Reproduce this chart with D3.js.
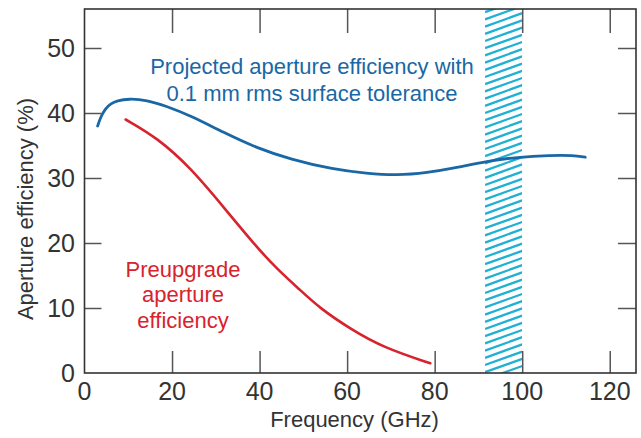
<!DOCTYPE html>
<html><head><meta charset="utf-8">
<script src="https://cdn.jsdelivr.net/npm/d3@7"></script>
<style>html,body{margin:0;padding:0;background:#fff;}svg{display:block;}</style>
</head><body>
<script>
// ---- data ----
const projectedFreq = [3.0, 3.7, 4.8, 5.9, 7.5, 10.0, 14.3, 18.5, 24.2, 31.8, 39.4, 47.0, 56.9, 64.5, 71.4, 78.2, 85.1, 91.9, 98.8, 106.4, 111.7, 114.4];
const projectedEff  = [38.0, 39.4, 40.7, 41.4, 41.9, 42.2, 42.0, 41.1, 39.6, 37.0, 34.6, 32.9, 31.3, 30.7, 30.4, 30.8, 31.6, 32.6, 33.2, 33.5, 33.5, 33.2];
const preupgradeFreq = [9.4, 16.6, 24.2, 31.8, 39.4, 44.0, 49.2, 53.9, 60.7, 68.3, 79.0];
const preupgradeEff  = [39.0, 36.2, 31.6, 25.5, 19.3, 16.0, 12.8, 9.9, 6.8, 3.9, 1.5];
const bandGHz = [91.5, 100];
const xTicks = [0, 20, 40, 60, 80, 100, 120];
const yTicks = [0, 10, 20, 30, 40, 50];
const xDomain = [0, 126];
const yDomain = [0, 56];
const projectedLabel = ["Projected aperture efficiency with", "0.1 mm rms surface tolerance"];
const preupgradeLabel = ["Preupgrade", "aperture", "efficiency"];
const xTitle = "Frequency (GHz)";
const yTitle = "Aperture efficiency (%)";

// ---- layout ----
const W = 641, H = 438;
const pL = 84.5, pR = 636, pT = 9, pB = 373;
const blue = "#1a67a5", red = "#d7232d", hatch = "#1fb0d3", ink = "#333";
const font = "'Liberation Sans', Arial, sans-serif";

const svg = d3.select("body").append("svg").attr("width", W).attr("height", H);
const x = d3.scaleLinear().domain(xDomain).range([pL, pR]);
const y = d3.scaleLinear().domain(yDomain).range([pB, pT]);

// hatch band
const bx0 = x(bandGHz[0]), bx1 = x(bandGHz[1]);
svg.append("clipPath").attr("id", "bandclip").append("rect")
  .attr("x", bx0).attr("y", pT).attr("width", bx1 - bx0).attr("height", pB - pT);
const gH = svg.append("g").attr("clip-path", "url(#bandclip)");
const run = bx1 - bx0, rise = run * 0.36, step = 7.2;
const offs = d3.range(pT - 4, pB + rise + 8, step);
gH.selectAll("line").data(offs).join("line")
  .attr("x1", bx0).attr("y1", d => d)
  .attr("x2", bx1).attr("y2", d => d - rise)
  .attr("stroke", hatch).attr("stroke-width", 2.3);

// axes (inner ticks on all four sides)
const tickColor = "#555";
svg.append("g").attr("transform", `translate(0,${pB})`)
  .call(d3.axisTop(x).tickValues(xTicks.filter(d => d > 0)).tickSize(22).tickFormat(""))
  .call(g => { g.select(".domain").remove(); g.selectAll("line").attr("stroke", tickColor).attr("stroke-width", 1.5); });
svg.append("g").attr("transform", `translate(0,${pT})`)
  .call(d3.axisBottom(x).tickValues(xTicks.filter(d => d > 0)).tickSize(24).tickFormat(""))
  .call(g => { g.select(".domain").remove(); g.selectAll("line").attr("stroke", tickColor).attr("stroke-width", 1.5); });
svg.append("g").attr("transform", `translate(${pL},0)`)
  .call(d3.axisRight(y).tickValues(yTicks.filter(d => d > 0)).tickSize(17).tickFormat(""))
  .call(g => { g.select(".domain").remove(); g.selectAll("line").attr("stroke", tickColor).attr("stroke-width", 1.5); });
svg.append("g").attr("transform", `translate(${pR},0)`)
  .call(d3.axisLeft(y).tickValues(yTicks.filter(d => d > 0)).tickSize(18).tickFormat(""))
  .call(g => { g.select(".domain").remove(); g.selectAll("line").attr("stroke", tickColor).attr("stroke-width", 1.5); });

// frame
svg.append("rect").attr("x", pL).attr("y", pT).attr("width", pR - pL).attr("height", pB - pT)
  .attr("fill", "none").attr("stroke", ink).attr("stroke-width", 1.6);

// tick labels
svg.append("g").selectAll("text").data(xTicks).join("text")
  .attr("x", d => x(d)).attr("y", 400).attr("text-anchor", "middle")
  .attr("font-family", font).attr("font-size", 25).attr("fill", ink).text(d => d);
svg.append("g").selectAll("text").data(yTicks).join("text")
  .attr("x", 75).attr("y", d => y(d) + 8.8).attr("text-anchor", "end")
  .attr("font-family", font).attr("font-size", 25).attr("fill", ink).text(d => d);

// axis titles
svg.append("text").attr("x", 354.5).attr("y", 427).attr("text-anchor", "middle")
  .attr("font-family", font).attr("font-size", 22).attr("fill", ink).text(xTitle);
svg.append("text").attr("transform", "translate(33,209) rotate(-90)").attr("text-anchor", "middle")
  .attr("font-family", font).attr("font-size", 22).attr("fill", ink).text(yTitle);

// curves
const line = d3.line().x(d => x(d[0])).y(d => y(d[1])).curve(d3.curveBasis);
svg.append("path").datum(preupgradeFreq.map((f, i) => [f, preupgradeEff[i]]))
  .attr("d", line).attr("fill", "none").attr("stroke", red).attr("stroke-width", 2.6).attr("stroke-linecap", "round");
svg.append("path").datum(projectedFreq.map((f, i) => [f, projectedEff[i]]))
  .attr("d", line).attr("fill", "none").attr("stroke", blue).attr("stroke-width", 2.8).attr("stroke-linecap", "round");

// annotations
svg.append("text").attr("font-family", font).attr("font-size", 22).attr("fill", blue).attr("text-anchor", "middle")
  .selectAll("tspan").data(projectedLabel).join("tspan")
  .attr("x", 312).attr("y", (d, i) => 74 + i * 26.7).text(d => d);
svg.append("text").attr("font-family", font).attr("font-size", 22).attr("fill", red).attr("text-anchor", "middle")
  .selectAll("tspan").data(preupgradeLabel).join("tspan")
  .attr("x", 183).attr("y", (d, i) => 276.5 + i * 25.8).text(d => d);
</script>
</body></html>
